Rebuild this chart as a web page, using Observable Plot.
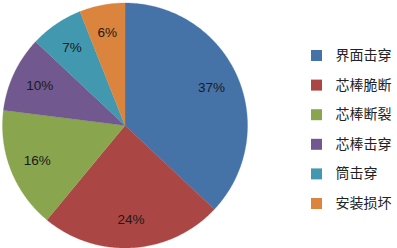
<!DOCTYPE html>
<html>
<head>
<meta charset="utf-8">
<script src="https://cdn.jsdelivr.net/npm/d3@7"></script>
<script src="https://cdn.jsdelivr.net/npm/@observablehq/plot@0.6"></script>
<style>
  html, body { margin: 0; padding: 0; background: #fff; }
  #chart svg { display: block; }
</style>
</head>
<body>
<div id="chart"></div>
<script>
const categories = ["界面击穿", "芯棒脆断", "芯棒断裂", "芯棒击穿", "筒击穿", "安装损坏"];
const shares = [37, 24, 16, 10, 7, 6];
const colors = ["#4572A7", "#AA4643", "#89A54E", "#71588F", "#4198AF", "#DB843D"];

const W = 397, H = 248;
const cx = 124.5, cy = 125, R = 122.5;
const labelFrac = 0.77;

const arcs = d3.pie().sort(null).value(d => d)(shares);

const pt = (a, r) => ({ x: cx + r * Math.sin(a), y: cy - r * Math.cos(a) });

const slicePoints = [];
arcs.forEach((arc, i) => {
  const key = categories[i];
  slicePoints.push({ key, ...pt(0, 0) });
  const n = Math.max(8, Math.ceil((arc.endAngle - arc.startAngle) / 0.01));
  for (let k = 0; k <= n; k++) {
    const a = arc.startAngle + (arc.endAngle - arc.startAngle) * k / n;
    slicePoints.push({ key, ...pt(a, R) });
  }
});

const labels = arcs.map((arc, i) => {
  const mid = (arc.startAngle + arc.endAngle) / 2;
  return { text: shares[i] + "%", ...pt(mid, R * labelFrac) };
});

const legend = categories.map((c, i) => ({ key: c, y: 55 + i * 29.6 }));

const chart = Plot.plot({
  width: W,
  height: H,
  margin: 0,
  style: { background: "#fff", fontFamily: "'Noto Sans CJK SC', 'Noto Sans', sans-serif" },
  x: { domain: [0, W], range: [0, W], axis: null },
  y: { domain: [0, H], range: [0, H], axis: null },
  color: { domain: categories, range: colors },
  marks: [
    Plot.line(slicePoints, {
      x: "x", y: "y", z: "key", fill: "key",
      stroke: "key", strokeWidth: 0.3, curve: "linear-closed"
    }),
    Plot.text(labels, {
      x: "x", y: "y", text: "text", fontSize: 13.5, fill: "#1a1a1a",
      fontFamily: "'Liberation Sans', sans-serif"
    }),
    Plot.dot(legend, {
      x: () => 316, y: "y", symbol: "square", r: 6.2, fill: "key", stroke: null
    }),
    Plot.text(legend, {
      x: () => 335, y: "y", text: "key", textAnchor: "start", fontSize: 14,
      fill: "#222", fontFamily: "'Noto Sans CJK SC', sans-serif"
    })
  ]
});

document.getElementById("chart").appendChild(chart);
</script>
</body>
</html>
